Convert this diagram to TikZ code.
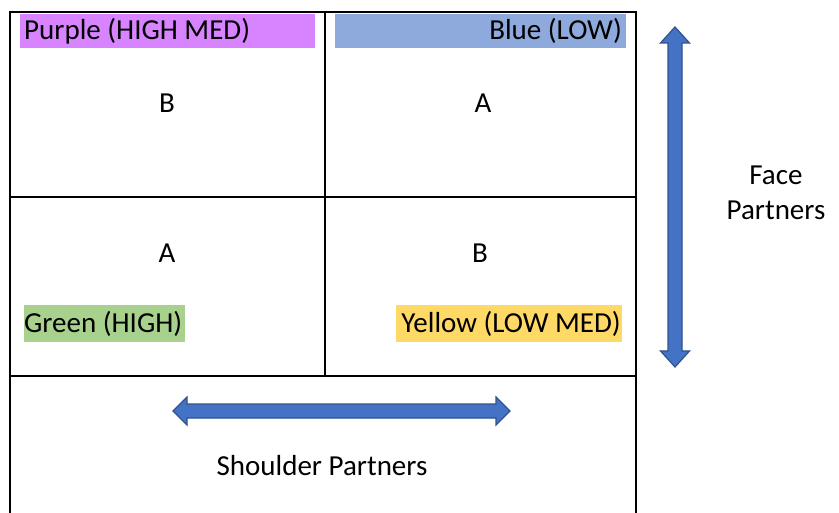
\documentclass[tikz,border=0pt]{standalone}
\usepackage{fontspec}
\setmainfont{Carlito}
\definecolor{cpurple}{HTML}{D883FF}
\definecolor{cblue}{HTML}{8EA9DB}
\definecolor{cgreen}{HTML}{A9D18E}
\definecolor{cyellow}{HTML}{FFD966}
\definecolor{arrowfill}{HTML}{4472C4}
\definecolor{arrowdraw}{HTML}{2F528F}
\begin{document}
\begin{tikzpicture}[x=1pt,y=-1pt,
  grid/.style={line width=1.8pt,black},
  lbl/.style={font=\fontsize{29}{35}\selectfont,inner sep=0pt},
  bigarrow/.style={fill=arrowfill,draw=arrowdraw,line width=1.2pt,line join=miter}]
\useasboundingbox (0,0) rectangle (839,513);
\fill[white] (0,0) rectangle (839,513);
% grid
\coordinate (tl) at (10,12);
\coordinate (tr) at (636,12);
\coordinate (bl) at (10,513);
\coordinate (br) at (636,513);
\coordinate (mt) at (325,12);
\coordinate (mb) at (325,376);
\coordinate (r1l) at (10,197);
\coordinate (r1r) at (636,197);
\coordinate (r2l) at (10,376);
\coordinate (r2r) at (636,376);
\draw[grid] (bl) -- (tl) -- (tr) -- (br);
\draw[grid] (mt) -- (mb);
\draw[grid] (r1l) -- (r1r);
\draw[grid] (r2l) -- (r2r);
% colour bands
\fill[cpurple] (20,14) rectangle (315,48);
\fill[cblue] (335,14) rectangle (626,48);
\fill[cgreen] (24,305) rectangle (185,342);
\fill[cyellow] (396,305) rectangle (622,342);
\node[lbl,anchor=west] (purple) at (24,31) {Purple (HIGH MED)};
\node[lbl,anchor=east] (blue) at (622,31) {Blue (LOW)};
\node[lbl,anchor=west] (green) at (24,324) {Green (HIGH)};
\node[lbl,anchor=east] (yellow) at (621,324) {Yellow (LOW MED)};
% letters
\node[lbl] (b1) at (167,103) {B};
\node[lbl] (a1) at (483,103) {A};
\node[lbl] (a2) at (167,253) {A};
\node[lbl] (b2) at (480,253) {B};
% labels
\node[lbl,align=center] (face) at (776,193) {Face\\Partners};
\node[lbl] (shoulder) at (322,466) {Shoulder Partners};
% vertical double arrow
\draw[bigarrow] (675,27) -- (689.5,43) -- (682,43) -- (682,351) -- (689.5,351) -- (675,367)
  -- (660.5,351) -- (668,351) -- (668,43) -- (660.5,43) -- cycle;
% horizontal double arrow
\draw[bigarrow] (173,411) -- (187,397) -- (187,404) -- (496,404) -- (496,397) -- (510,411)
  -- (496,425) -- (496,418) -- (187,418) -- (187,425) -- cycle;
\end{tikzpicture}
\end{document}
